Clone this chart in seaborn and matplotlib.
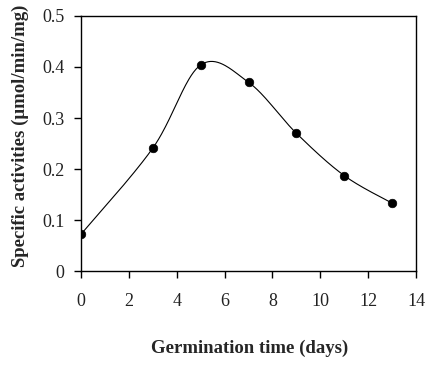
import numpy as np
import pandas as pd
import matplotlib
matplotlib.use('Agg')
import matplotlib.pyplot as plt
import seaborn as sns

# germination data
days = [0, 3, 5, 7, 9, 11, 13]
activity = [0.072, 0.241, 0.404, 0.370, 0.270, 0.187, 0.133]
x_ticks = [0, 2, 4, 6, 8, 10, 12, 14]
y_ticks = [0, 0.1, 0.2, 0.3, 0.4, 0.5]
y_tick_labels = ['0', '0.1', '0.2', '0.3', '0.4', '0.5']


def smooth_line(xs, ys, steps=40):
    # Excel style smoothed line (Catmull-Rom through the points)
    pts = np.column_stack([xs, ys]).astype(float)
    pts = np.vstack([pts[0], pts, pts[-1]])
    out = []
    for i in range(1, len(pts) - 2):
        p0, p1, p2, p3 = pts[i - 1], pts[i], pts[i + 1], pts[i + 2]
        t = np.linspace(0, 1, steps)[:, None]
        seg = 0.5 * ((2 * p1) + (-p0 + p2) * t
                     + (2 * p0 - 5 * p1 + 4 * p2 - p3) * t ** 2
                     + (-p0 + 3 * p1 - 3 * p2 + p3) * t ** 3)
        out.append(seg)
    out = np.vstack(out)
    return pd.DataFrame({'x': out[:, 0], 'y': out[:, 1]})


df = pd.DataFrame({'day': days, 'activity': activity})
curve = smooth_line(days, activity)

sns.set_style('white')
plt.rcParams['font.family'] = ['Liberation Serif', 'DejaVu Serif']

fig = plt.figure(figsize=(4.25, 3.71), dpi=100)
ax = fig.add_axes([0.1906, 0.2695, 0.7884, 0.6874])

sns.lineplot(data=curve, x='x', y='y', sort=False, color='black',
             linewidth=0.8, ax=ax)
sns.scatterplot(data=df, x='day', y='activity', color='black', s=38,
                edgecolor='black', zorder=3, ax=ax)

ax.set_xlim(0, 14)
ax.set_ylim(0, 0.5)
ax.set_xticks(x_ticks)
ax.set_yticks(y_ticks)
ax.set_yticklabels(y_tick_labels)
ax.tick_params(axis='both', direction='out', length=5, width=1,
               color='black', labelsize=13, labelcolor='#222222',
               bottom=True, left=True)
ax.tick_params(axis='x', pad=11)
ax.tick_params(axis='y', pad=7)
for sp in ax.spines.values():
    sp.set_color('black')
    sp.set_linewidth(1)

ax.set_xlabel('Germination time (days)', fontsize=13.5, fontweight='bold')
ax.set_ylabel('Specific activities (\u03bcmol/min/mg)', fontsize=13.5,
              fontweight='bold')
ax.xaxis.set_label_coords(0.504, -0.302)
ax.yaxis.set_label_coords(-0.182, 0.53)
ax.xaxis.label.set_va('center')
ax.yaxis.label.set_va('center')

fig.savefig('out.png', dpi=100)
